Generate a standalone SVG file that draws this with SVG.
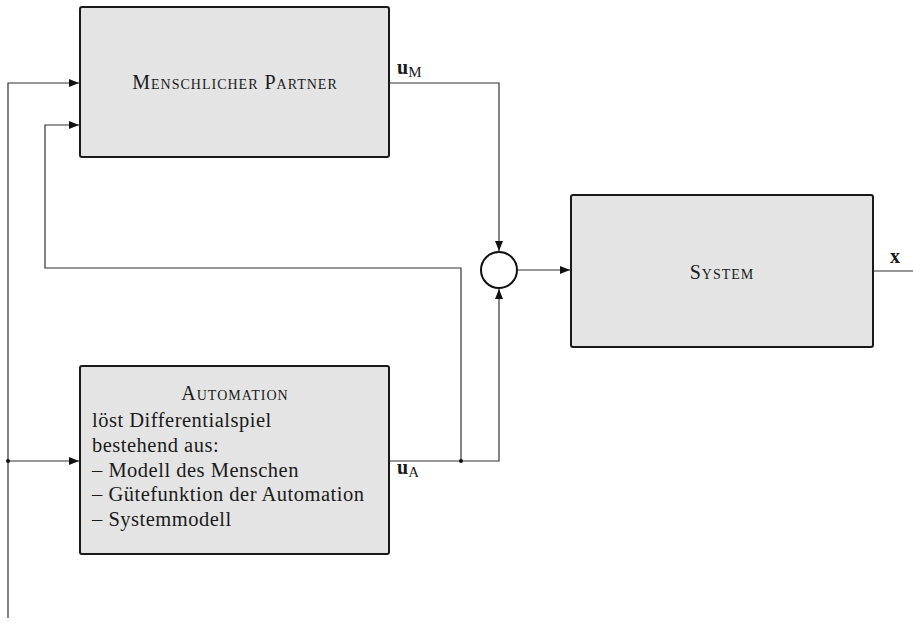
<svg xmlns="http://www.w3.org/2000/svg" width="913" height="625" viewBox="0 0 913 625">
<style>
.box{fill:#e4e4e4;stroke:#1a1a1a;stroke-width:2}
.ln{fill:none;stroke:#333;stroke-width:1.2}
text{font-family:"Liberation Serif","DejaVu Serif",serif;fill:#1a1a1a}
.sc{font-variant:small-caps;font-size:20px;letter-spacing:1px}
.t{font-size:20.5px;letter-spacing:0.5px}
.lab{font-size:20px;font-weight:bold}
.sub{font-size:15px;font-weight:normal}
</style>
<defs>
<marker id="ah" viewBox="0 0 10 8" refX="10" refY="4" markerWidth="10" markerHeight="8" markerUnits="userSpaceOnUse" orient="auto">
<path d="M0,0 L10,4 L0,8 Z" fill="#111"/>
</marker>
</defs>
<g id="connectors">
<path class="ln" d="M8,618 V83 H79" marker-end="url(#ah)"/>
<path class="ln" d="M8,461 H79" marker-end="url(#ah)"/>
<path class="ln" d="M461,461 V268 H45 V125 H79" marker-end="url(#ah)"/>
<path class="ln" d="M389,83 H499 V251" marker-end="url(#ah)"/>
<path class="ln" d="M389,461 H499 V289" marker-end="url(#ah)"/>
<path class="ln" d="M517,270 H570" marker-end="url(#ah)"/>
<path class="ln" d="M873,271 H913"/>
<circle cx="8" cy="461" r="2" fill="#111"/>
<circle cx="461" cy="461" r="2" fill="#111"/>
</g>
<g id="menschlicher-partner">
<rect class="box" x="80" y="7" width="309" height="150" rx="2"/>
<text class="sc" x="235" y="89" text-anchor="middle">Menschlicher Partner</text>
</g>
<g id="summation">
<circle cx="499" cy="270" r="18" fill="#fff" stroke="#111" stroke-width="2"/>
</g>
<g id="system">
<rect class="box" x="571" y="195" width="302" height="152" rx="2"/>
<text class="sc" x="722" y="279" text-anchor="middle">System</text>
</g>
<g id="automation">
<rect class="box" x="80" y="366" width="309" height="188" rx="2"/>
<text class="sc" x="235" y="400" text-anchor="middle">Automation</text>
<text class="t" x="92" y="427">löst Differentialspiel</text>
<text class="t" x="92" y="452">bestehend aus:</text>
<text class="t" x="92" y="477">– Modell des Menschen</text>
<text class="t" x="92" y="501">– Gütefunktion der Automation</text>
<text class="t" x="92" y="526">– Systemmodell</text>
</g>
<g id="labels">
<text class="lab" x="397" y="74">u<tspan class="sub" dy="3">M</tspan></text>
<text class="lab" x="397" y="474">u<tspan class="sub" dy="3">A</tspan></text>
<text class="lab" x="890" y="263">x</text>
</g>
</svg>
